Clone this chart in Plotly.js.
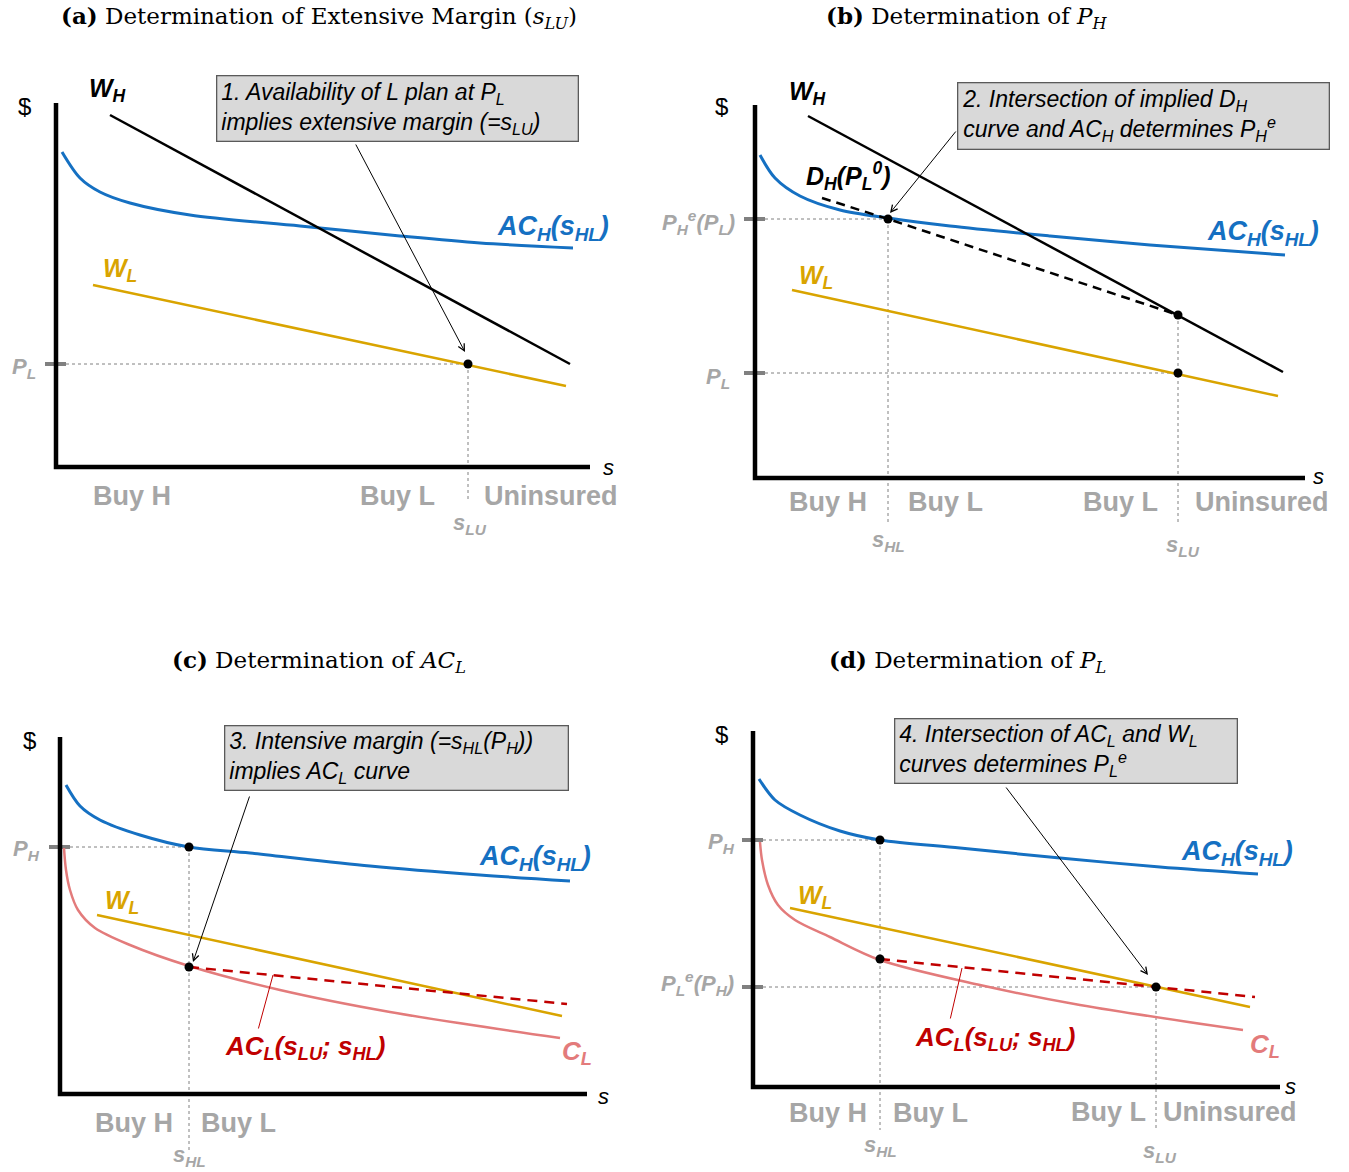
<!DOCTYPE html>
<html><head><meta charset="utf-8">
<script src="https://cdn.plot.ly/plotly-3.0.1.min.js"></script>
<style>html,body{margin:0;padding:0;background:#fff}#chart{width:1349px;height:1172px}</style>
</head><body><div id="chart"></div>
<script>
// ===== Data in diagram units (s = horizontal, $ = vertical), origin at the axis corner =====
// Panel (a)
const aAxisS = [0, 0, 534];   const aAxisP = [364, 0, 0];
const aWH_s  = [54, 514];     const aWH_p  = [352, 103];
const aACH_s = [6, 24, 44, 74, 134, 244, 344, 424, 517];
const aACH_p = [315, 289, 275, 264, 252, 241, 231, 224, 219];
const aWL_s  = [37, 510];     const aWL_p  = [182, 81];
const aSLU = 412, aPL = 103, aBottom = -33;

// Panel (b)
const bAxisS = [0, 0, 550];   const bAxisP = [373, 0, 0];
const bWH_s  = [53, 528];     const bWH_p  = [362, 106];
const bACH_s = [5, 20, 45, 85, 133, 195, 295, 395, 530];
const bACH_p = [323, 300, 282, 268, 260, 252, 242, 233, 223];
const bDH_s  = [67, 133, 423]; const bDH_p = [280, 259, 163];
const bWL_s  = [37, 523];     const bWL_p  = [188, 82];
const bSHL = 133, bPHe = 259, bSLU = 423, bPL = 105, bDHatLU = 163, bBottom = -44;

// Panel (c)
const cAxisS = [0, 0, 527];   const cAxisP = [357, 0, 0];
const cACH_s = [6, 20, 40, 80, 129, 190, 310, 420, 510];
const cACH_p = [309, 288, 274, 259, 247, 241, 228, 219, 213];
const cCL_s  = [4, 6, 10, 18, 35, 70, 129, 220, 330, 500];
const cCL_p  = [246, 224, 204, 184, 166, 149, 128, 104, 82, 56];
const cWL_s  = [37, 502];     const cWL_p  = [179, 78];
const cACL_s = [129, 507];    const cACL_p = [127, 90];
const cSHL = 129, cPH = 247, cACLatHL = 127, cBottom = -56;

// Panel (d)
const dAxisS = [0, 0, 527];   const dAxisP = [356, 0, 0];
const dACH_s = [6, 22, 47, 87, 127, 207, 307, 407, 505];
const dACH_p = [308, 287, 272, 256, 247, 239, 229, 220, 213];
const dCL_s  = [7, 9, 15, 25, 42, 77, 127, 227, 327, 490];
const dCL_p  = [245, 227, 202, 182, 167, 150, 127, 102, 82, 57];
const dWL_s  = [37, 497];     const dWL_p  = [179, 80];
const dACL_s = [127, 502];    const dACL_p = [128, 90];
const dSHL = 127, dPH = 247, dACLatHL = 128, dSLU = 403, dPLe = 100, dBottom = -43;

// ===== Styling =====
const W = 1349, H = 1172;
const BLUE = '#1570C2', GOLD = '#D9A400', PINK = '#E37B7B', RED = '#C00000',
      LGRAY = '#A6A6A6', TGRAY = '#808080', SANS = 'Liberation Sans, Arial, sans-serif',
      SERIF = 'DejaVu Serif, Liberation Serif, serif';

const traces = [];
function ax(n){ return {xaxis: 'x' + n, yaxis: 'y' + n}; }
function ln(n, s, p, color, width, dash, shape){
  traces.push(Object.assign({type:'scatter', mode:'lines', x:s, y:p, hoverinfo:'skip',
    line:{color:color, width:width, dash:dash||'solid', shape:shape||'linear', smoothing:0.9}}, ax(n)));
}
function dots(n, s, p){
  traces.push(Object.assign({type:'scatter', mode:'markers', x:s, y:p, hoverinfo:'skip', cliponaxis:false,
    marker:{color:'#000', size:9}}, ax(n)));
}
function guideH(n, sEnd, p){ ln(n, [10, sEnd], [p, p], TGRAY, 1, 'dot'); ln(n, [-11, 10], [p, p], TGRAY, 4); }
function guideV(n, s, pTop, pBot){ ln(n, [s, s], [pTop, pBot], TGRAY, 1, 'dot'); }

// Panel (a)
guideH('', aSLU, aPL); guideV('', aSLU, aPL, aBottom);
ln('', aAxisS, aAxisP, '#000', 4.5);
ln('', aACH_s, aACH_p, BLUE, 3, null, 'spline');
ln('', aWH_s, aWH_p, '#000', 2.5);
ln('', aWL_s, aWL_p, GOLD, 2.5);
dots('', [aSLU], [aPL]);

// Panel (b)
guideH('2', bSHL, bPHe); guideH('2', bSLU, bPL);
guideV('2', bSHL, bPHe, bBottom); guideV('2', bSLU, bDHatLU, bBottom);
ln('2', bAxisS, bAxisP, '#000', 4.5);
ln('2', bACH_s, bACH_p, BLUE, 3, null, 'spline');
ln('2', bWH_s, bWH_p, '#000', 2.5);
ln('2', bDH_s, bDH_p, '#000', 2.5, '9px,6px');
ln('2', bWL_s, bWL_p, GOLD, 2.5);
dots('2', [bSHL, bSLU, bSLU], [bPHe, bDHatLU, bPL]);

// Panel (c)
guideH('3', cSHL, cPH); guideV('3', cSHL, cPH, cBottom);
ln('3', cAxisS, cAxisP, '#000', 4.5);
ln('3', cACH_s, cACH_p, BLUE, 3, null, 'spline');
ln('3', cCL_s, cCL_p, PINK, 2.5, null, 'spline');
ln('3', cWL_s, cWL_p, GOLD, 2.5);
ln('3', cACL_s, cACL_p, RED, 2.5, '10px,7px');
dots('3', [cSHL, cSHL], [cPH, cACLatHL]);

// Panel (d)
guideH('4', dSHL, dPH); guideH('4', dSLU, dPLe);
guideV('4', dSHL, dPH, dBottom); guideV('4', dSLU, dPLe, dBottom);
ln('4', dAxisS, dAxisP, '#000', 4.5);
ln('4', dACH_s, dACH_p, BLUE, 3, null, 'spline');
ln('4', dCL_s, dCL_p, PINK, 2.5, null, 'spline');
ln('4', dWL_s, dWL_p, GOLD, 2.5);
ln('4', dACL_s, dACL_p, RED, 2.5, '10px,7px');
dots('4', [dSHL, dSHL, dSLU], [dPH, dACLatHL, dPLe]);

// ===== Layout =====
const layout = {width:W, height:H, margin:{l:0, r:0, t:0, b:0}, paper_bgcolor:'#fff',
  plot_bgcolor:'rgba(0,0,0,0)', showlegend:false, annotations:[]};
function panel(n, x0, x1, y0, y1, ox, oy){
  layout['xaxis' + n] = {domain:[x0 / W, x1 / W], range:[x0 - ox, x1 - ox], visible:false, fixedrange:true, anchor:'y' + n};
  layout['yaxis' + n] = {domain:[(H - y1) / H, (H - y0) / H], range:[oy - y1, oy - y0], visible:false, fixedrange:true, anchor:'x' + n};
}
panel('', 0, 660, 40, 600, 56, 467);
panel('2', 660, 1349, 40, 600, 755, 478);
panel('3', 0, 660, 680, 1172, 60, 1094);
panel('4', 660, 1349, 680, 1172, 753, 1087);

const A = layout.annotations;
function lab(px, py, text, size, color, family){
  A.push({xref:'paper', yref:'paper', x:px / W, y:1 - py / H, text:text, showarrow:false,
    xanchor:'center', yanchor:'middle', font:{family:family || SANS, size:size, color:color}});
}
function arrow(tx, ty, hx, hy, color, head){
  A.push({xref:'paper', yref:'paper', x:hx / W, y:1 - hy / H, ax:tx - hx, ay:ty - hy, axref:'pixel', ayref:'pixel',
    text:'', showarrow:true, arrowhead:head, arrowsize:1.3, arrowwidth:1, arrowcolor:color, standoff:0, startstandoff:0});
}
function box(cx, cy, w, h, text){
  A.push({xref:'paper', yref:'paper', x:cx / W, y:1 - cy / H, text:text, showarrow:false,
    xanchor:'center', yanchor:'middle', width:w - 10, height:h - 10, align:'left', valign:'middle',
    bgcolor:'#d9d9d9', bordercolor:'#5a5a5a', borderwidth:1.3, borderpad:4,
    font:{family:SANS, size:23, color:'#000'}});
}
const bi = t => '<b><i>' + t + '</i></b>';
const ACH = bi('AC<sub>H</sub>(s<sub>HL</sub>)');
const WH = bi('W<sub>H</sub>'), WL = bi('W<sub>L</sub>');
const ACL = bi('AC<sub>L</sub>(s<sub>LU</sub>; s<sub>HL</sub>)'), CL = bi('C<sub>L</sub>');
const PL = bi('P<sub>L</sub>'), PH = bi('P<sub>H</sub>');
const SHL = bi('s<sub>HL</sub>'), SLU = bi('s<sub>LU</sub>');

// Titles
lab(319, 17, '<b>(a)</b> Determination of Extensive Margin (<i>s<sub>LU</sub></i>)', 23, '#000', SERIF);
lab(967, 17, '<b>(b)</b> Determination of <i>P<sub>H</sub></i>', 23, '#000', SERIF);
lab(319, 661, '<b>(c)</b> Determination of <i>AC<sub>L</sub></i>', 23, '#000', SERIF);
lab(967, 661, '<b>(d)</b> Determination of <i>P<sub>L</sub></i>', 23, '#000', SERIF);

// Panel (a) labels
lab(24, 107, '$', 24, '#000');
lab(108, 90, WH, 25, '#000');
lab(553, 228, ACH, 27, BLUE);
lab(120, 270, WL, 25, GOLD);
lab(24, 368, PL, 22, LGRAY);
lab(608, 467, '<i>s</i>', 22, '#000');
lab(132, 496, '<b>Buy H</b>', 27, LGRAY);
lab(397, 496, '<b>Buy L</b>', 27, LGRAY);
lab(551, 496, '<b>Uninsured</b>', 27, LGRAY);
lab(470, 524, SLU, 22, LGRAY);
box(397, 108, 362, 66, '<i>1. Availability of L plan at P<sub>L</sub><br>implies extensive margin (=s<sub>LU</sub>)</i>');
arrow(355, 143, 465, 352, '#000', 5);

// Panel (b) labels
lab(722, 107, '$', 24, '#000');
lab(808, 93, WH, 25, '#000');
lab(848, 176, bi('D<sub>H</sub>(P<sub>L</sub><sup>0</sup>)'), 25, '#000');
lab(1263, 233, ACH, 27, BLUE);
lab(698, 222, bi('P<sub>H</sub><sup>e</sup>(P<sub>L</sub>)'), 22, LGRAY);
lab(816, 277, WL, 25, GOLD);
lab(718, 378, PL, 22, LGRAY);
lab(1318, 476, '<i>s</i>', 22, '#000');
lab(828, 502, '<b>Buy H</b>', 27, LGRAY);
lab(945, 502, '<b>Buy L</b>', 27, LGRAY);
lab(1120, 502, '<b>Buy L</b>', 27, LGRAY);
lab(1262, 502, '<b>Uninsured</b>', 27, LGRAY);
lab(888, 541, SHL, 22, LGRAY);
lab(1183, 546, SLU, 22, LGRAY);
box(1143, 116, 372, 67, '<i>2. Intersection of implied D<sub>H</sub><br>curve and AC<sub>H</sub> determines P<sub>H</sub><sup>e</sup></i>');
arrow(957, 130, 890, 213, '#000', 5);

// Panel (c) labels
lab(29, 740, '$', 24, '#000');
lab(535, 858, ACH, 27, BLUE);
lab(26, 850, PH, 22, LGRAY);
lab(122, 902, WL, 25, GOLD);
lab(305, 1047, ACL, 26, RED);
lab(577, 1052, CL, 26, PINK);
lab(603, 1096, '<i>s</i>', 22, '#000');
lab(134, 1123, '<b>Buy H</b>', 27, LGRAY);
lab(238, 1123, '<b>Buy L</b>', 27, LGRAY);
lab(189, 1156, SHL, 22, LGRAY);
box(396, 758, 344, 65, '<i>3. Intensive margin (=s<sub>HL</sub>(P<sub>H</sub>))<br>implies AC<sub>L</sub> curve</i>');
arrow(250, 795, 193, 962, '#000', 5);
arrow(258, 1030, 273, 975, RED, 0);

// Panel (d) labels
lab(722, 735, '$', 24, '#000');
lab(1237, 853, ACH, 27, BLUE);
lab(722, 843, PH, 22, LGRAY);
lab(815, 897, WL, 25, GOLD);
lab(697, 983, bi('P<sub>L</sub><sup>e</sup>(P<sub>H</sub>)'), 22, LGRAY);
lab(995, 1038, ACL, 26, RED);
lab(1265, 1045, CL, 26, PINK);
lab(1290, 1086, '<i>s</i>', 22, '#000');
lab(828, 1113, '<b>Buy H</b>', 27, LGRAY);
lab(930, 1113, '<b>Buy L</b>', 27, LGRAY);
lab(1108, 1112, '<b>Buy L</b>', 27, LGRAY);
lab(1230, 1112, '<b>Uninsured</b>', 27, LGRAY);
lab(880, 1146, SHL, 22, LGRAY);
lab(1160, 1152, SLU, 22, LGRAY);
box(1066, 751, 343, 65, '<i>4. Intersection of AC<sub>L</sub> and W<sub>L</sub><br>curves determines P<sub>L</sub><sup>e</sup></i>');
arrow(1005, 786, 1148, 975, '#000', 5);
arrow(950, 1020, 962, 968, RED, 0);

Plotly.newPlot('chart', traces, layout, {staticPlot:true, displayModeBar:false});
</script></body></html>
